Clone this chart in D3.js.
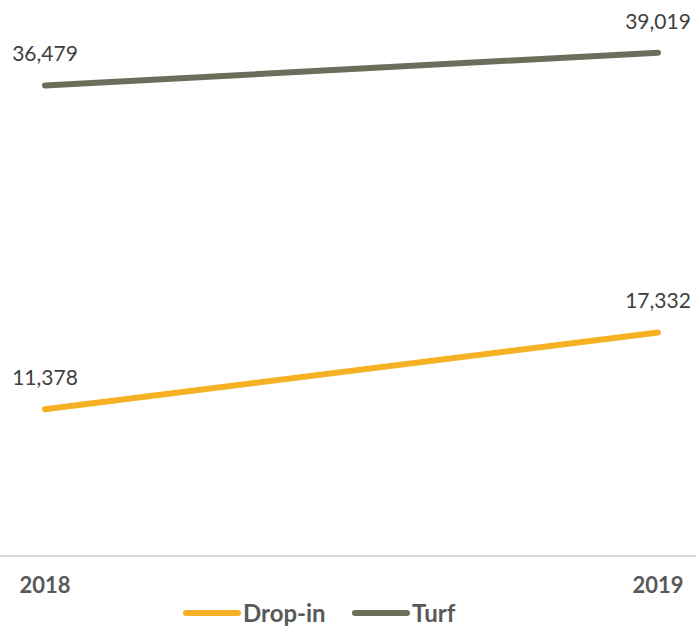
<!DOCTYPE html>
<html>
<head>
<meta charset="utf-8">
<script src="https://cdn.jsdelivr.net/npm/d3@7"></script>
<style>
  body { margin: 0; background: #fff; }
  svg { display: block; font-family: Lato, "Open Sans", sans-serif; }
</style>
</head>
<body>
<div id="chart"></div>
<script>
const years = ["2018", "2019"];
const seriesNames = ["Drop-in", "Turf"];
const dropIn = [11378, 17332];
const turf = [36479, 39019];

const width = 696,
  height = 633,
  baseline = 556;

const colors = { "Drop-in": "#F5B024", "Turf": "#6B6E5A" };

const x = d3.scalePoint()
  .domain(years)
  .range([45, 658]);

const y = d3.scaleLinear()
  .domain([0, 43100])
  .range([baseline, 0]);

const svg = d3.select("#chart")
  .append("svg")
  .attr("width", width)
  .attr("height", height)
  .attr("viewBox", [0, 0, width, height]);

// baseline axis
svg.append("line")
  .attr("x1", 0)
  .attr("x2", width)
  .attr("y1", baseline)
  .attr("y2", baseline)
  .attr("stroke", "#d9d9d9")
  .attr("stroke-width", 2);

svg.append("g")
  .selectAll("text")
  .data(years)
  .join("text")
  .attr("x", d => x(d))
  .attr("y", 593)
  .attr("text-anchor", "middle")
  .attr("font-size", 22)
  .attr("font-weight", "bold")
  .attr("fill", "#595959")
  .text(d => d);

const series = [
  { name: "Drop-in", values: dropIn },
  { name: "Turf", values: turf }
];

const line = d3.line()
  .x((d, i) => x(years[i]))
  .y(d => y(d));

const g = svg.selectAll("g.series")
  .data(series)
  .join("g")
  .attr("class", "series");

g.append("path")
  .attr("d", d => line(d.values))
  .attr("fill", "none")
  .attr("stroke", d => colors[d.name])
  .attr("stroke-width", 6)
  .attr("stroke-linecap", "round");

g.selectAll("text")
  .data(d => d.values)
  .join("text")
  .attr("x", (d, i) => x(years[i]))
  .attr("y", d => y(d) - 24)
  .attr("text-anchor", "middle")
  .attr("font-size", 21)
  .attr("fill", "#404040")
  .text(d => d3.format(",")(d));

// legend
const legend = svg.append("g")
  .attr("transform", "translate(0,613)");

const legendX = [184, 353];

const item = legend.selectAll("g")
  .data(seriesNames)
  .join("g")
  .attr("transform", (d, i) => `translate(${legendX[i]},0)`);

item.append("line")
  .attr("x1", 2)
  .attr("x2", 54)
  .attr("stroke", d => colors[d])
  .attr("stroke-width", 6)
  .attr("stroke-linecap", "round");

item.append("text")
  .attr("x", 59)
  .attr("y", 9)
  .attr("font-size", 24)
  .attr("font-weight", "bold")
  .attr("fill", "#595959")
  .text(d => d);
</script>
</body>
</html>
